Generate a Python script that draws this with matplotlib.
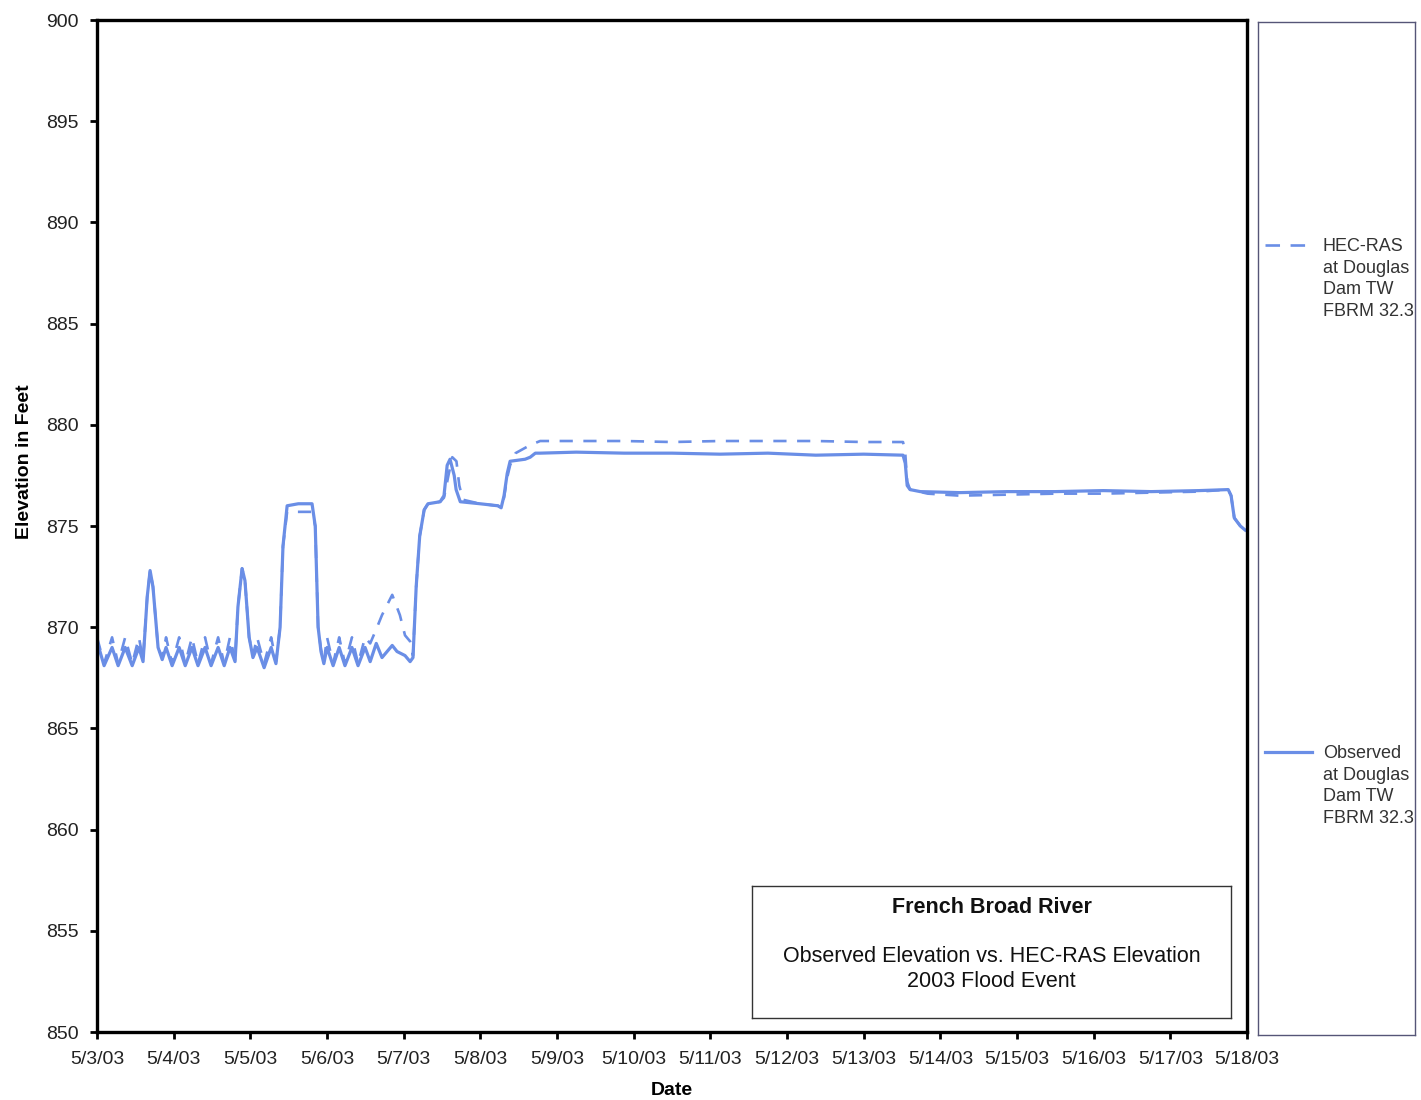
import matplotlib
matplotlib.use("Agg")
import matplotlib.pyplot as plt
import pandas as pd
from matplotlib.lines import Line2D

plt.rcParams['font.family'] = ['Liberation Sans', 'DejaVu Sans']

start = pd.Timestamp("2003-05-03 00:00")

# Observed elevation: hours since 5/3/03 00:00, elevation (ft)
obs_hours = [0, 2.2, 4.7, 6.6, 8.8, 11, 13.1, 14.4, 15.7, 16.6, 17.5, 19.1, 20.4,
             21.6, 23.5, 25.7, 27.6, 29.7, 31.6, 33.8, 35.7, 37.9, 39.8, 41.6, 43.2,
             44.1, 45.4, 46.3, 47.6, 48.8, 50.1, 52.3, 54.5, 56, 57.3, 58.2, 59.5,
             63, 67.3, 68.3, 69.2, 70.1, 71, 72, 73.9, 75.8, 77.6, 79.8, 81.7, 83.9,
             85.5, 87.4, 89.2, 92.4, 93.9, 96.4, 98, 98.9, 99.9, 101, 102.4, 103.6,
             107.4, 108.6, 109.6, 110.5, 111.8, 112.4, 113.7, 119.9, 125.5, 126.5,
             127.4, 128.4, 129.3, 134, 135.6, 137.2, 138.7, 150, 165, 180, 195, 210,
             225, 240, 252.3, 253, 253.6, 254.5, 257.7, 270, 285, 300, 315, 330, 345,
             354.1, 355, 356, 357.9, 359.4]
obs_elev = [869.3, 868.1, 869.0, 868.1, 869.0, 868.1, 869.0, 868.3, 871.5, 872.8, 872.0, 869.0, 868.4,
            869.0, 868.1, 869.0, 868.1, 869.0, 868.1, 869.0, 868.1, 869.0, 868.1, 869.0, 868.3,
            871.0, 872.9, 872.3, 869.5, 868.5, 869.0, 868.0, 869.0, 868.2, 870.0, 874.0, 876.0,
            876.1, 876.1, 875.0, 870.0, 868.8, 868.2, 869.0, 868.1, 869.0, 868.1, 869.0, 868.1, 869.0,
            868.3, 869.2, 868.5, 869.1, 868.8, 868.6, 868.3, 868.5, 872.0, 874.5, 875.8, 876.1,
            876.2, 876.5, 878.0, 878.3, 877.5, 876.8, 876.2, 876.1, 876.0, 875.9,
            876.5, 877.6, 878.2, 878.3, 878.4, 878.6, 878.6, 878.65, 878.6, 878.6, 878.55, 878.6,
            878.5, 878.55, 878.5, 878.1, 877.0, 876.8, 876.7, 876.65, 876.7, 876.7, 876.75, 876.7, 876.75,
            876.8, 876.5, 875.4, 875.0, 874.8]

# HEC-RAS computed elevation
ras_hours = [0, 2.2, 4.7, 6.6, 8.8, 11, 13.1, 14.4, 15.7, 16.6, 17.5, 19.1, 20.4,
             21.6, 23.5, 25.7, 27.6, 29.7, 31.6, 33.8, 35.7, 37.9, 39.8, 41.6, 43.2,
             44.1, 45.4, 46.3, 47.6, 48.8, 50.1, 52.3, 54.5, 56, 57.3, 58.2, 59.5,
             63, 67.3, 68.3, 69.2, 70.1, 71, 72, 73.9, 75.8, 77.6, 79.8, 81.7, 83.9,
             85.5, 87.4, 89.2, 92.4, 94.8, 96.4, 98, 98.9, 99.9, 101, 102.4, 103.6,
             107.4, 108.6, 110.0, 111.2, 112.5, 113.4, 114.5, 119.9, 125.5, 126.5,
             127.4, 128.4, 129.3, 131, 135.6, 138.7, 150, 165, 180, 195, 210,
             225, 240, 252.3, 253, 253.6, 254.5, 260, 270, 285, 300, 315, 330, 345,
             354.1, 355, 356, 357.9, 359.4]
ras_elev = [869.5, 868.2, 869.5, 868.2, 869.5, 868.2, 869.5, 868.4, 871.5, 872.8, 872.0, 869.0, 868.5,
            869.5, 868.2, 869.5, 868.2, 869.5, 868.2, 869.5, 868.2, 869.5, 868.2, 869.5, 868.4,
            871.0, 872.9, 872.3, 869.5, 868.6, 869.5, 868.2, 869.5, 868.3, 870.0, 874.0, 875.7,
            875.7, 875.7, 875.0, 870.0, 868.9, 868.3, 869.5, 868.2, 869.5, 868.2, 869.5, 868.2, 869.5,
            869.2, 869.9, 870.6, 871.6, 870.6, 869.6, 869.3, 868.6, 872.0, 874.5, 875.8, 876.1,
            876.2, 876.4, 877.5, 878.4, 878.2, 877.0, 876.3, 876.1, 876.0, 875.9,
            876.4, 877.4, 878.0, 878.6, 879.0, 879.2, 879.2, 879.2, 879.15, 879.2, 879.2,
            879.2, 879.15, 879.15, 878.6, 877.2, 876.8, 876.6, 876.5, 876.55, 876.6, 876.6, 876.65, 876.7,
            876.8, 876.5, 875.4, 875.0, 874.8]

obs_t = start + pd.to_timedelta(obs_hours, unit="h")
ras_t = start + pd.to_timedelta(ras_hours, unit="h")

tick_dates = pd.date_range("2003-05-03", "2003-05-18", freq="D")
tick_labels = [f"{d.month}/{d.day}/03" for d in tick_dates]
y_ticks = list(range(850, 901, 5))

line_color = "#6A8EE6"
dash = (0, (5, 4))

fig = plt.figure(figsize=(14.21, 11.0), dpi=100)
ax = fig.add_axes([0.0683, 0.0618, 0.8093, 0.920])

ax.plot(ras_t, ras_elev, color=line_color, lw=1.9, ls=dash)
ax.plot(obs_t, obs_elev, color=line_color, lw=2.3)

ax.set_xlim(tick_dates[0], tick_dates[-1])
ax.set_ylim(850, 900)
ax.set_xticks(tick_dates)
ax.set_xticklabels(tick_labels)
ax.set_yticks(y_ticks)
ax.tick_params(axis="both", direction="out", length=5, width=2, labelsize=14,
               colors="black", labelcolor="#222222")
ax.tick_params(axis="x", pad=9)
ax.tick_params(axis="y", pad=8)
for s in ax.spines.values():
    s.set_linewidth(2.4)
    s.set_color("black")

ax.set_xlabel("Date", fontsize=14, fontweight="bold", labelpad=10)
ax.set_ylabel("Elevation in Feet", fontsize=14, fontweight="bold")
ax.yaxis.set_label_coords(-0.056, 0.564)

# title box inside the plot
tb = ax.inset_axes([0.5696, 0.0138, 0.4165, 0.130])
tb.set_xticks([])
tb.set_yticks([])
for s in tb.spines.values():
    s.set_linewidth(1.0)
    s.set_color("#333333")
tb.text(0.5, 0.84, "French Broad River", ha="center", va="center",
        fontsize=15.5, fontweight="bold", color="#111111", transform=tb.transAxes)
tb.text(0.5, 0.47, "Observed Elevation vs. HEC-RAS Elevation", ha="center", va="center",
        fontsize=15.5, color="#111111", transform=tb.transAxes)
tb.text(0.5, 0.275, "2003 Flood Event", ha="center", va="center",
        fontsize=15.5, color="#111111", transform=tb.transAxes)

# legend box on the right
lax = fig.add_axes([0.8853, 0.0591, 0.1105, 0.921])
lax.set_xticks([])
lax.set_yticks([])
for s in lax.spines.values():
    s.set_linewidth(1.0)
    s.set_color("#555577")

blank = Line2D([], [], color="none")
h_ras = Line2D([], [], color=line_color, lw=1.9, ls=(0, (5.5, 4)))
h_obs = Line2D([], [], color=line_color, lw=2.3)
ras_label = ["HEC-RAS", "at Douglas", "Dam TW", "FBRM 32.3"]
obs_label = ["Observed", "at Douglas", "Dam TW", "FBRM 32.3"]

common = dict(loc="upper left", frameon=False, fontsize=13, borderpad=0,
              borderaxespad=0, handlelength=2.6, handletextpad=0.6,
              labelspacing=0.25, labelcolor="#333333",
              bbox_transform=fig.transFigure)
leg1 = lax.legend([h_ras, blank, blank, blank], ras_label,
                  bbox_to_anchor=(1265 / 1421, 1 - 238 / 1100), **common)
lax.add_artist(leg1)
leg2 = lax.legend([h_obs, blank, blank, blank], obs_label,
                  bbox_to_anchor=(1265 / 1421, 1 - 745 / 1100), **common)

fig.savefig("out.png", dpi=100)
